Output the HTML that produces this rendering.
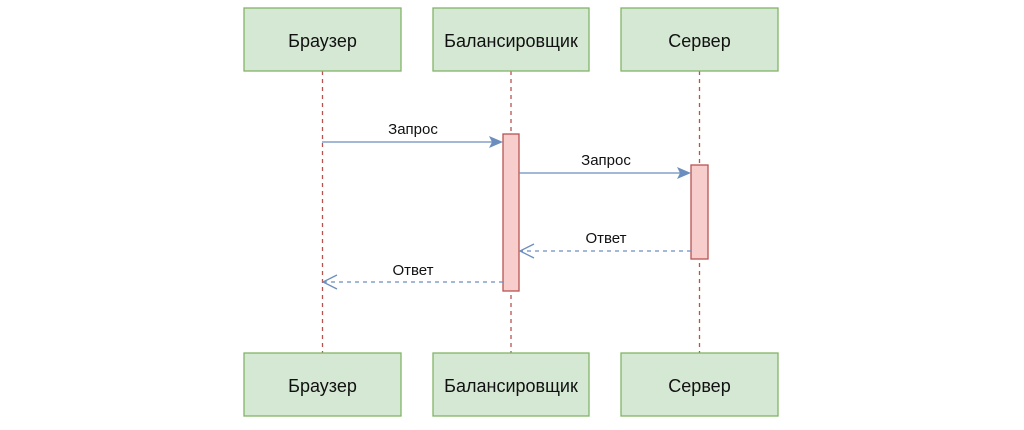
<!DOCTYPE html>
<html><head><meta charset="utf-8"><style>body{margin:0;background:#fff}</style></head><body>
<svg width="1024" height="425" xmlns="http://www.w3.org/2000/svg" font-family="Liberation Sans, sans-serif">
<g stroke="#b85450" stroke-width="1.3" stroke-dasharray="4,4">
<line x1="322.5" y1="71" x2="322.5" y2="353"/>
<line x1="511" y1="71" x2="511" y2="353"/>
<line x1="699.5" y1="71" x2="699.5" y2="353"/>
</g>
<g fill="#d5e8d4" stroke="#82b366" stroke-width="1.3">
<rect x="244" y="8" width="157" height="63"/>
<rect x="433" y="8" width="156" height="63"/>
<rect x="621" y="8" width="157" height="63"/>
<rect x="244" y="353" width="157" height="63"/>
<rect x="433" y="353" width="156" height="63"/>
<rect x="621" y="353" width="157" height="63"/>
</g>
<g font-size="18" text-anchor="middle" fill="#111">
<text x="322.5" y="47">Браузер</text>
<text x="511" y="47">Балансировщик</text>
<text x="699.5" y="47">Сервер</text>
<text x="322.5" y="392">Браузер</text>
<text x="511" y="392">Балансировщик</text>
<text x="699.5" y="392">Сервер</text>
</g>
<g fill="#f8cecc" stroke="#b85450" stroke-width="1.3">
<rect x="503" y="134" width="16" height="157"/>
<rect x="691" y="165" width="17" height="94"/>
</g>
<g stroke="#6c8ebf" stroke-width="1.3" fill="none">
<line x1="322" y1="142" x2="492" y2="142"/>
<line x1="519" y1="173" x2="680" y2="173"/>
<line x1="691" y1="251" x2="520" y2="251" stroke-dasharray="4,4"/>
<polyline points="534,244 520,251 534,258"/>
<line x1="503" y1="282" x2="323" y2="282" stroke-dasharray="4,4"/>
<polyline points="337,275 323,282 337,289"/>
</g>
<g fill="#6c8ebf">
<polygon points="503,142 489,136 492,142 489,148"/>
<polygon points="691,173 677,167 680,173 677,179"/>
</g>
<g font-size="15" text-anchor="middle" fill="#111">
<text x="413" y="134">Запрос</text>
<text x="606" y="165">Запрос</text>
<text x="606" y="243">Ответ</text>
<text x="413" y="275">Ответ</text>
</g>
</svg>
</body></html>
